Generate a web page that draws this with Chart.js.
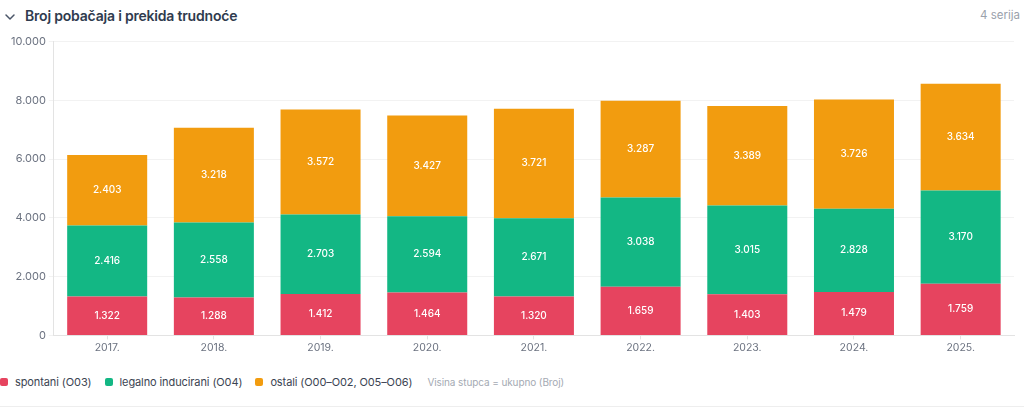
<!DOCTYPE html>
<html>
<head>
<meta charset="utf-8">
<script src="https://cdn.jsdelivr.net/npm/chart.js@4"></script>
<style>
  html, body { margin: 0; padding: 0; background: #fff; font-family: Inter, "Noto Sans", sans-serif; }
  body { width: 1024px; height: 409px; position: relative; overflow: hidden; }
  .head { position: absolute; left: 0; top: 5px; width: 1024px; height: 22px; }
  .head svg { position: absolute; left: 4px; top: 6px; }
  .head .title { position: absolute; left: 25px; top: 2px; font-size: 14px; font-weight: 600; letter-spacing: -0.2px; color: #2f3b4e; }
  .head .count { position: absolute; right: 4px; top: 3px; font-size: 11.5px; color: #9aa1ab; }
  .wrap { position: absolute; left: 0; top: 32px; width: 1024px; height: 324px; }
  .legend { position: absolute; left: 0; top: 375px; display: flex; align-items: center; font-size: 11px; letter-spacing: -0.1px; color: #3b4452; white-space: nowrap; }
  .legend .item { display: flex; align-items: center; margin-right: 13px; }
  .legend .sw { width: 8px; height: 8px; border-radius: 2px; margin-right: 7px; }
  .legend .note { color: #a4aab3; font-size: 10px; margin-left: 2px; }
  .rule { position: absolute; left: 0; right: 0; top: 406px; height: 1px; background: #eeeeee; }
</style>
</head>
<body>
<div class="head">
  <svg width="12" height="12" viewBox="0 0 12 12"><path d="M2 4 L6 8 L10 4" fill="none" stroke="#4a5568" stroke-width="1.5" stroke-linecap="round" stroke-linejoin="round"/></svg>
  <div class="title">Broj pobačaja i prekida trudnoće</div>
  <div class="count">4 serija</div>
</div>
<div class="wrap"><canvas id="chart"></canvas></div>
<div class="legend" id="legend"></div>
<div class="rule"></div>
<script>
const years = ["2017.", "2018.", "2019.", "2020.", "2021.", "2022.", "2023.", "2024.", "2025."];
const spontani = [1322, 1288, 1412, 1464, 1320, 1659, 1403, 1479, 1759];
const legalno = [2416, 2558, 2703, 2594, 2671, 3038, 3015, 2828, 3170];
const ostali = [2403, 3218, 3572, 3427, 3721, 3287, 3389, 3726, 3634];
const seriesNames = ["spontani (O03)", "legalno inducirani (O04)", "ostali (O00–O02, O05–O06)"];
const seriesColors = ["#e6445f", "#13b784", "#f29c0f"];
const noteText = "Visina stupca = ukupno (Broj)";

function fmt(n) {
  return String(Math.round(n)).replace(/\B(?=(\d{3})+(?!\d))/g, ".");
}

// white numbers centred in each segment
const segmentLabels = {
  id: "segmentLabels",
  afterDatasetsDraw(chart) {
    const ctx = chart.ctx;
    ctx.save();
    ctx.font = "500 10px Inter, 'Noto Sans', sans-serif";
    ctx.fillStyle = "#ffffff";
    ctx.textAlign = "center";
    ctx.textBaseline = "middle";
    chart.data.datasets.forEach((ds, i) => {
      const meta = chart.getDatasetMeta(i);
      meta.data.forEach((bar, j) => {
        const mid = (bar.y + bar.base) / 2;
        ctx.fillText(fmt(ds.data[j]), bar.x, mid);
      });
    });
    ctx.restore();
  },
};

const allSeries = [spontani, legalno, ostali];

const chart = new Chart(document.getElementById("chart"), {
  type: "bar",
  data: {
    labels: years,
    datasets: allSeries.map((vals, i) => ({
      label: seriesNames[i],
      data: vals,
      backgroundColor: seriesColors[i],
      borderWidth: 0,
      barPercentage: 0.75,
      categoryPercentage: 1,
    })),
  },
  options: {
    responsive: true,
    maintainAspectRatio: false,
    animation: false,
    layout: { padding: { left: 8, right: 10, top: 4, bottom: 0 } },
    plugins: {
      legend: { display: false },
      tooltip: { enabled: false },
    },
    scales: {
      x: {
        stacked: true,
        grid: { display: true, drawOnChartArea: false, offset: false, tickLength: 4, color: "#e3e3e3" },
        border: { color: "#e3e3e3" },
        ticks: { color: "#6b7280", font: { size: 10.5, family: "Inter" }, padding: 2 },
      },
      y: {
        stacked: true,
        min: 0,
        max: 10000,
        grid: { color: "#f2f2f2", tickLength: 5 },
        border: { color: "#e3e3e3" },
        ticks: {
          stepSize: 2000,
          color: "#6b7280",
          font: { size: 11, family: "Inter" },
          padding: 3,
          callback: (v) => fmt(v),
        },
      },
    },
  },
  plugins: [segmentLabels],
});

const legend = document.getElementById("legend");
seriesNames.forEach((name, i) => {
  const item = document.createElement("div");
  item.className = "item";
  item.innerHTML = '<span class="sw" style="background:' + seriesColors[i] + '"></span>' + name;
  legend.appendChild(item);
});
const note = document.createElement("span");
note.className = "note";
note.textContent = noteText;
legend.appendChild(note);
</script>
</body>
</html>
